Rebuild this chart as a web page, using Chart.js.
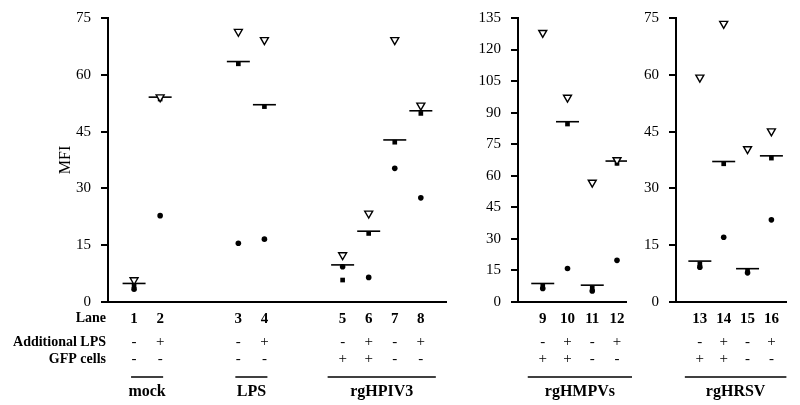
<!DOCTYPE html>
<html>
<head>
<meta charset="utf-8">
<script src="https://cdn.jsdelivr.net/npm/chart.js@4.4.1/dist/chart.umd.min.js"></script>
<style>
  body { margin: 0; background: #fff; }
  #wrap { position: relative; width: 800px; height: 405px; }
  canvas { position: absolute; top: 0; }
</style>
</head>
<body>
<div id="wrap">
  <canvas id="c1" width="460" height="405" style="left:0px"></canvas>
  <canvas id="c2" width="180" height="405" style="left:460px"></canvas>
  <canvas id="c3" width="160" height="405" style="left:640px"></canvas>
</div>
<script>
// lanes and where each one sits on its panel's x axis
const lanes = [1, 2, 3, 4, 5, 6, 7, 8, 9, 10, 11, 12, 13, 14, 15, 16];
const laneSlot = [1, 2, 5, 6, 9, 10, 11, 12, 1, 2, 3, 4, 1, 2, 3, 4];
const additionalLps = ["-", "+", "-", "+", "-", "+", "-", "+", "-", "+", "-", "+", "-", "+", "-", "+"];
const gfpCells = ["-", "-", "-", "-", "+", "+", "-", "-", "+", "+", "-", "-", "+", "+", "-", "-"];

// MFI per lane, one value per donor marker + the bar
const triangleVals = [5.8, 54.1, 71.4, 69.2, 12.4, 23.4, 69.2, 51.9, 128.0, 97.2, 56.8, 67.5, 59.3, 73.5, 40.4, 45.1];
const squareVals = [4.3, 53.6, 62.9, 51.6, 5.8, 18.1, 42.2, 49.8, 7.5, 84.6, 6.6, 65.9, 10.1, 36.5, 8.2, 38.0];
const circleVals = [3.4, 22.8, 15.5, 16.6, 9.3, 6.5, 35.3, 27.5, 6.4, 15.9, 5.2, 19.8, 9.2, 17.1, 7.7, 21.7];
const barVals = [4.9, 54.1, 63.5, 52.1, 9.8, 18.7, 42.8, 50.5, 8.8, 85.7, 8.0, 67.0, 10.8, 37.1, 8.8, 38.6];

const groupNames = ["mock", "LPS", "rgHPIV3", "rgHMPVs", "rgHRSV"];
const groupFirstLane = [1, 3, 5, 9, 13];
const groupLastLane = [2, 4, 8, 12, 16];

const yTicksStep = 15;

const panels = [
  { id: "c1", first: 1, last: 8, yMax: 75, xMax: 13, yWidth: 108, top: 18, right: 3, title: true, groups: [0, 1, 2] },
  { id: "c2", first: 9, last: 12, yMax: 135, xMax: 4.4, yWidth: 58, top: 16, right: 11, title: false, groups: [3] },
  { id: "c3", first: 13, last: 16, yMax: 75, xMax: 4.65, yWidth: 36, top: 15, right: 7, title: false, groups: [4] }
];

const serif = "'Liberation Serif', 'Times New Roman', serif";

function pts(vals, idx) {
  return idx.map(i => ({ x: laneSlot[i], y: vals[i] }));
}

function makePanel(p) {
  const idx = [];
  for (let i = 0; i < lanes.length; i++) {
    if (lanes[i] >= p.first && lanes[i] <= p.last) idx.push(i);
  }

  const rowsPlugin = {
    id: "rows",
    afterDraw(chart) {
      const ctx = chart.ctx;
      const xs = chart.scales.x;
      const ys = chart.scales.y;
      ctx.save();
      ctx.fillStyle = "#000";
      ctx.strokeStyle = "#000";

      // y tick marks (outside, to the left of the axis)
      ctx.lineWidth = 2;
      ys.ticks.forEach(t => {
        const y = Math.round(ys.getPixelForValue(t.value));
        ctx.beginPath();
        ctx.moveTo(chart.chartArea.left - 7, y);
        ctx.lineTo(chart.chartArea.left, y);
        ctx.stroke();
      });

      ctx.textBaseline = "middle";
      ctx.textAlign = "center";
      ctx.font = "15px " + serif;
      idx.forEach(i => {
        const x = xs.getPixelForValue(laneSlot[i]);
        ctx.fillText(additionalLps[i], x, 342);
        ctx.fillText(gfpCells[i], x, 359);
      });
      if (p.title) {
        ctx.textAlign = "right";
        ctx.font = "bold 14px " + serif;
        ctx.fillText("Lane", 106, 318);
        ctx.fillText("Additional LPS", 106, 342);
        ctx.fillText("GFP cells", 106, 359);
      }
      p.groups.forEach(g => {
        const a = xs.getPixelForValue(laneSlot[groupFirstLane[g] - 1]);
        const b = xs.getPixelForValue(laneSlot[groupLastLane[g] - 1]);
        const pad = groupLastLane[g] - groupFirstLane[g] > 1 ? 15 : 3;
        ctx.lineWidth = 1.5;
        ctx.beginPath();
        ctx.moveTo(a - pad, 377);
        ctx.lineTo(b + pad, 377);
        ctx.stroke();
        ctx.textAlign = "center";
        ctx.font = "bold 16px " + serif;
        ctx.fillText(groupNames[g], (a + b) / 2, 392);
      });
      ctx.restore();
    }
  };

  new Chart(document.getElementById(p.id), {
    type: "scatter",
    data: {
      datasets: [
        {
          data: pts(triangleVals, idx),
          pointStyle: "triangle", rotation: 180, radius: 4.6,
          backgroundColor: "#fff", borderColor: "#000", borderWidth: 1.4
        },
        {
          data: pts(squareVals, idx),
          pointStyle: "rect", radius: 3.3,
          backgroundColor: "#000", borderColor: "#000", borderWidth: 0
        },
        {
          data: pts(circleVals, idx),
          pointStyle: "circle", radius: 2.8,
          backgroundColor: "#000", borderColor: "#000", borderWidth: 0
        },
        {
          data: pts(barVals, idx),
          pointStyle: "line", radius: 11.5,
          backgroundColor: "#000", borderColor: "#000", borderWidth: 1.6
        }
      ]
    },
    options: {
      responsive: false,
      animation: false,
      layout: { padding: { left: 0, top: p.top, right: p.right, bottom: 0 } },
      plugins: { legend: { display: false }, tooltip: { enabled: false } },
      scales: {
        x: {
          type: "linear",
          min: 0,
          max: p.xMax,
          afterBuildTicks: s => { s.ticks = idx.map(i => ({ value: laneSlot[i] })); },
          afterFit: s => { s.height = 405 - 302; },
          grid: { display: false },
          border: { display: true, color: "#000", width: 2 },
          ticks: {
            autoSkip: false,
            maxRotation: 0,
            padding: 0,
            color: "#000",
            font: { family: serif, size: 15, weight: "bold" },
            callback: (v, i) => String(lanes[idx[i]])
          }
        },
        y: {
          min: 0,
          max: p.yMax,
          afterFit: s => { s.width = p.yWidth; },
          grid: { display: false },
          border: { display: true, color: "#000", width: 2 },
          ticks: {
            stepSize: yTicksStep,
            padding: 9,
            color: "#000",
            font: { family: serif, size: 15 }
          },
          title: {
            display: p.title,
            text: "MFI",
            color: "#000",
            font: { family: serif, size: 16 },
            padding: { top: 56, bottom: 0 }
          }
        }
      }
    },
    plugins: [rowsPlugin]
  });
}

panels.forEach(makePanel);
</script>
</body>
</html>
